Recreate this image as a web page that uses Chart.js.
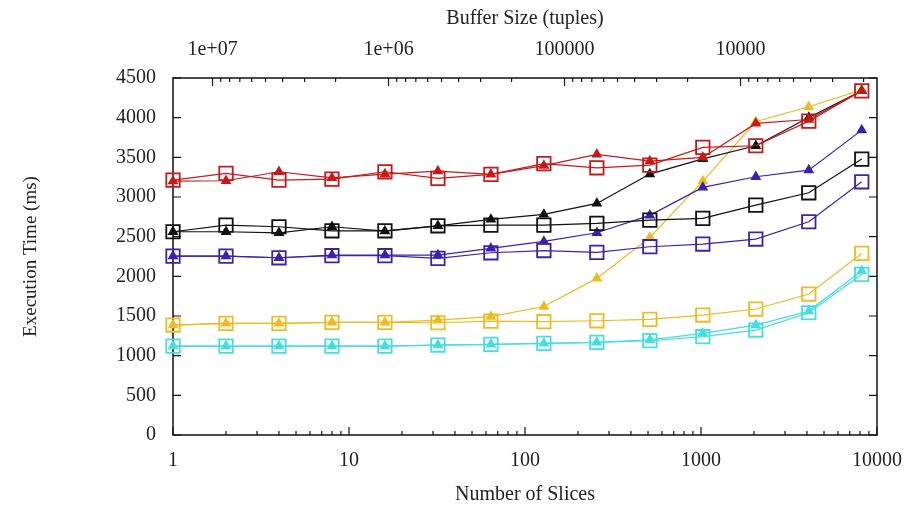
<!DOCTYPE html>
<html>
<head>
<meta charset="utf-8">
<script src="https://cdn.jsdelivr.net/npm/chart.js@4.4.0/dist/chart.umd.min.js"></script>
<style>
  html, body { margin: 0; padding: 0; background: #fff; }
  #wrap { width: 922px; height: 509px; }
</style>
</head>
<body>
<div id="wrap"><canvas id="chart"></canvas></div>
<script>
const slices = [1, 2, 4, 8, 16, 32, 64, 128, 256, 512, 1024, 2048, 4096, 8192];
const totalTuples = 16777216;

const redTri    = [3200, 3205, 3318, 3240, 3289, 3326, 3285, 3395, 3537, 3452, 3499, 3927, 3977, 4338];
const redSq     = [3213, 3297, 3213, 3226, 3318, 3234, 3285, 3420, 3368, 3402, 3625, 3646, 3956, 4338];
const blackTri  = [2562, 2562, 2549, 2625, 2570, 2637, 2717, 2780, 2919, 3289, 3480, 3646, 4003, 4338];
const blackSq   = [2562, 2646, 2625, 2574, 2574, 2637, 2646, 2646, 2667, 2709, 2730, 2898, 3053, 3478];
const blueTri   = [2255, 2255, 2234, 2268, 2268, 2268, 2352, 2440, 2549, 2768, 3121, 3255, 3339, 3843];
const blueSq    = [2255, 2255, 2234, 2260, 2260, 2226, 2297, 2325, 2302, 2373, 2407, 2470, 2688, 3192];
const orangeTri = [1386, 1407, 1407, 1420, 1420, 1449, 1491, 1620, 1974, 2490, 3200, 3948, 4137, 4350];
const orangeSq  = [1386, 1407, 1407, 1420, 1420, 1415, 1436, 1428, 1440, 1457, 1512, 1588, 1777, 2289];
const cyanTri   = [1121, 1121, 1121, 1121, 1121, 1134, 1143, 1155, 1168, 1200, 1281, 1386, 1562, 2070];
const cyanSq    = [1121, 1121, 1121, 1121, 1121, 1134, 1143, 1155, 1168, 1188, 1239, 1323, 1541, 2025];

const yTicks = [0, 500, 1000, 1500, 2000, 2500, 3000, 3500, 4000, 4500];

const RED = "#c81818", BLACK = "#111111", BLUE = "#3a22b0", ORANGE = "#eebb22", CYAN = "#44dde0";

function series(label, values, color, marker) {
  const tri = marker === "tri";
  return {
    label,
    data: slices.map((s, i) => ({ x: s, y: values[i] })),
    borderColor: color,
    backgroundColor: tri ? color : "rgba(0,0,0,0)",
    borderWidth: 1.2,
    pointStyle: tri ? "triangle" : "rect",
    pointRadius: tri ? 4.5 : 9.5,
    pointBorderWidth: 1.8,
    pointBorderColor: color,
    pointBackgroundColor: tri ? color : "rgba(0,0,0,0)",
    tension: 0,
    clip: false
  };
}

// log ticks: decades + minor 2..9
function logTicks(lo, hi) {
  const out = [];
  for (let e = Math.floor(Math.log10(lo)); e <= Math.ceil(Math.log10(hi)); e++) {
    for (let m = 1; m <= 9; m++) {
      const v = m * Math.pow(10, e);
      if (v >= lo * 0.9999 && v <= hi * 1.0001) out.push({ value: v });
    }
  }
  return out;
}
const isDecade = v => Math.abs(Math.log10(v) - Math.round(Math.log10(v))) < 1e-9;

const serif = "'Liberation Serif', 'Times New Roman', serif";
const textColor = "#222";

const boxTicks = {
  id: "boxTicks",
  beforeDatasetsDraw(chart) {
    const { ctx, chartArea: a, scales } = chart;
    ctx.save();
    ctx.strokeStyle = "#111";
    ctx.lineWidth = 1.5;
    ctx.strokeRect(a.left, a.top, a.right - a.left, a.bottom - a.top);
    ctx.lineWidth = 1.2;
    ctx.beginPath();
    scales.x.ticks.forEach(t => {
      const px = scales.x.getPixelForValue(t.value);
      const len = isDecade(t.value) ? 8 : 4;
      ctx.moveTo(px, a.bottom); ctx.lineTo(px, a.bottom - len);
    });
    scales.x2.ticks.forEach(t => {
      const px = scales.x2.getPixelForValue(t.value);
      const len = isDecade(t.value) ? 8 : 4;
      ctx.moveTo(px, a.top); ctx.lineTo(px, a.top + len);
    });
    scales.y.ticks.forEach(t => {
      const py = scales.y.getPixelForValue(t.value);
      ctx.moveTo(a.left, py); ctx.lineTo(a.left + 8, py);
      ctx.moveTo(a.right, py); ctx.lineTo(a.right - 8, py);
    });
    ctx.stroke();
    ctx.restore();
  }
};

new Chart(document.getElementById("chart"), {
  type: "line",
  data: {
    datasets: [
      series("red triangles", redTri, RED, "tri"),
      series("red squares", redSq, RED, "sq"),
      series("black triangles", blackTri, BLACK, "tri"),
      series("black squares", blackSq, BLACK, "sq"),
      series("blue triangles", blueTri, BLUE, "tri"),
      series("blue squares", blueSq, BLUE, "sq"),
      series("orange triangles", orangeTri, ORANGE, "tri"),
      series("orange squares", orangeSq, ORANGE, "sq"),
      series("cyan triangles", cyanTri, CYAN, "tri"),
      series("cyan squares", cyanSq, CYAN, "sq")
    ]
  },
  options: {
    responsive: true,
    maintainAspectRatio: false,
    animation: false,
    layout: { padding: { left: 0, right: 45, top: 0, bottom: 0 } },
    plugins: { legend: { display: false }, tooltip: { enabled: false } },
    scales: {
      x: {
        type: "logarithmic",
        position: "bottom",
        min: 1,
        max: 10000,
        grid: { display: false },
        border: { display: false },
        afterBuildTicks: s => { s.ticks = logTicks(1, 10000); },
        afterFit: s => { s.height = 74; },
        ticks: {
          autoSkip: false,
          maxRotation: 0,
          padding: 6,
          color: textColor,
          font: { family: serif, size: 20 },
          callback: v => isDecade(v) ? String(v) : ""
        },
        title: {
          display: true,
          text: "Number of Slices",
          color: textColor,
          font: { family: serif, size: 20 },
          padding: { top: 0, bottom: 2 }
        }
      },
      x2: {
        type: "logarithmic",
        position: "top",
        display: true,
        reverse: true,
        min: totalTuples / 10000,
        max: totalTuples,
        grid: { display: false },
        border: { display: false },
        afterBuildTicks: s => { s.ticks = logTicks(totalTuples / 10000, totalTuples); },
        afterFit: s => { s.height = 78; },
        ticks: {
          autoSkip: false,
          maxRotation: 0,
          padding: 8,
          color: textColor,
          font: { family: serif, size: 20 },
          callback: v => {
            if (!isDecade(v)) return "";
            const e = Math.round(Math.log10(v));
            return e >= 6 ? "1e+" + String(e).padStart(2, "0") : String(v);
          }
        },
        title: {
          display: true,
          text: "Buffer Size (tuples)",
          color: textColor,
          font: { family: serif, size: 20 },
          padding: { top: 7, bottom: 0 }
        }
      },
      y: {
        type: "linear",
        position: "left",
        min: 0,
        max: 4500,
        grid: { display: false },
        border: { display: false },
        afterBuildTicks: s => { s.ticks = yTicks.map(v => ({ value: v })); },
        afterFit: s => { s.width = 173; },
        ticks: {
          padding: 9,
          color: textColor,
          font: { family: serif, size: 20 },
          callback: v => String(v)
        },
        title: {
          display: true,
          text: "Execution Time (ms)",
          color: textColor,
          font: { family: serif, size: 19 },
          padding: { top: 20, bottom: 0 }
        }
      }
    }
  },
  plugins: [boxTicks]
});
</script>
</body>
</html>
